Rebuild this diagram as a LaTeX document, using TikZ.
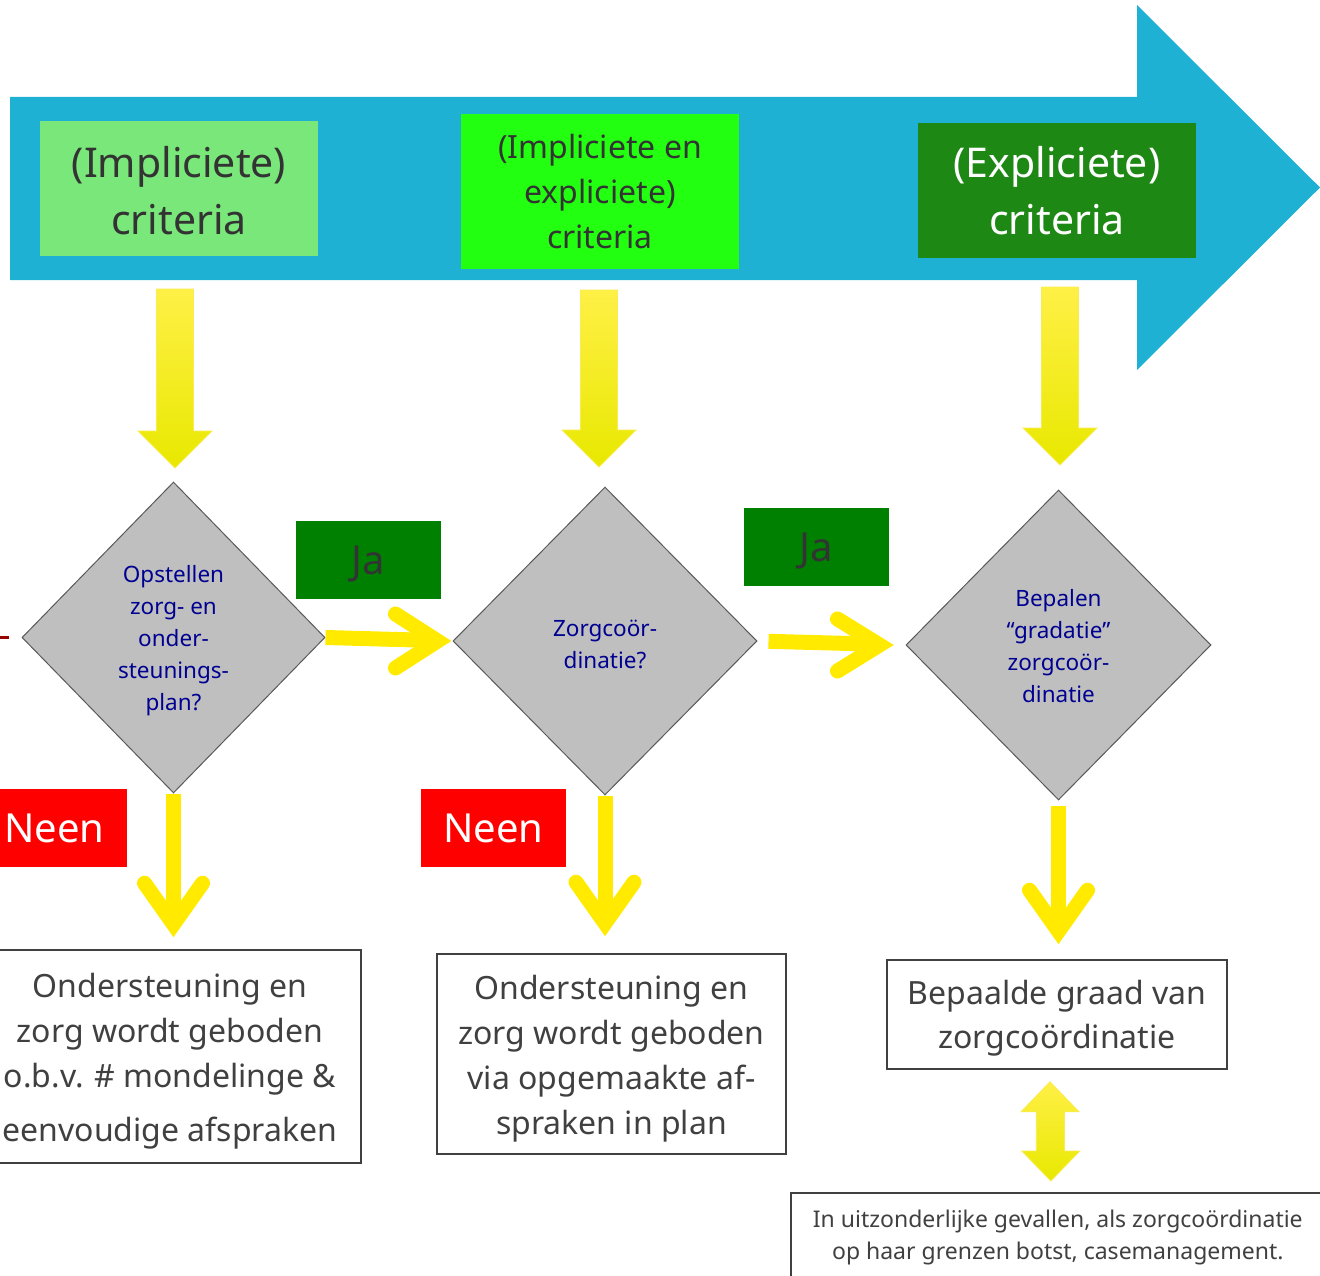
\documentclass[tikz,border=0pt]{standalone}
\usepackage{fontspec}
\setmainfont{Noto Sans}
\usetikzlibrary{shapes.geometric,calc}
\definecolor{arrowblue}{RGB}{31,177,211}
\definecolor{lgreen}{RGB}{122,231,122}
\definecolor{bgreen}{RGB}{34,255,16}
\definecolor{dgreen}{RGB}{29,136,19}
\definecolor{jagreen}{RGB}{0,128,0}
\definecolor{neenred}{RGB}{255,0,0}
\definecolor{txtgray}{RGB}{64,64,64}
\definecolor{darktxt}{RGB}{51,51,51}
\definecolor{diagray}{RGB}{191,191,191}
\definecolor{diaborder}{RGB}{89,89,89}
\definecolor{navytxt}{RGB}{0,0,145}
\definecolor{ylwline}{RGB}{255,234,0}
\definecolor{ylwA}{RGB}{255,240,70}
\definecolor{ylwB}{RGB}{255,245,0}
\definecolor{ylwC}{RGB}{232,232,0}
\definecolor{ylwedge}{RGB}{250,235,80}
\definecolor{linered}{RGB}{153,0,0}
\newcommand\downblock[3]{%
  \shadedraw[blockarrow] (#1-18.5,#2) -- (#1+18.5,#2) -- (#1+18.5,#3-37) -- (#1+37,#3-37) -- (#1,#3) -- (#1-37,#3-37) -- (#1-18.5,#3-37) -- cycle;}
\begin{document}
\begin{tikzpicture}[x=1pt,y=-1pt,
  crit/.style={rectangle, inner sep=0pt, align=center, minimum width=278pt, text=darktxt},
  decision/.style={diamond, draw=diaborder, line width=1pt, fill=diagray, inner sep=0pt},
  dtext/.style={inner sep=0pt, align=center, text=navytxt, font=\fontsize{22.5}{32}\selectfont},
  tag/.style={rectangle, inner sep=0pt, minimum width=145pt, minimum height=78pt, text depth=0pt, font=\fontsize{40}{48}\selectfont},
  outcome/.style={rectangle, draw=txtgray, line width=1.6pt, fill=white, inner sep=0pt},
  otext/.style={inner sep=0pt, align=center, text=txtgray},
  yline/.style={draw=ylwline, line width=15pt},
  ychev/.style={draw=ylwline, line width=15pt, line cap=round, line join=miter},
  blockarrow/.style={top color=ylwA, middle color=ylwB, bottom color=ylwC, draw=ylwedge, line width=0.8pt}
]
\useasboundingbox (0,0) rectangle (1320,1276);
\clip (0,0) rectangle (1320,1276);

% big blue arrow
\fill[arrowblue] (10,97) -- (1137,97) -- (1137,5) -- (1320,187.5) -- (1137,370) -- (1137,280) -- (10,280) -- cycle;

% criteria boxes
\node[crit, fill=lgreen, minimum height=135pt] (c1) at (179,188.5) {};
\node[crit, font=\fontsize{41}{57}\selectfont] (c1t) at ($(c1.center)+(0,2)$) {(Impliciete)\\criteria};
\node[crit, fill=bgreen, minimum height=155pt, font=\fontsize{32}{45}\selectfont] (c2) at (600,191.5) {(Impliciete en\\expliciete)\\criteria};
\node[crit, fill=dgreen, minimum height=135pt, text=white, font=\fontsize{41}{57}\selectfont] (c3) at (1057,190.5) {(Expliciete)\\criteria};

% block arrows down
\downblock{175}{289}{468}
\downblock{599}{290}{467}
\downblock{1060}{287}{465}

% decisions
\node[decision, minimum width=303pt, minimum height=311pt] (d1) at (173.5,637.5) {};
\node[dtext] (d1t) at ($(d1.center)+(0,3)$) {Opstellen\\zorg- en\\onder-\\steunings-\\plan?};
\node[decision, minimum width=304pt, minimum height=308pt] (d2) at (605,641) {};
\node[dtext] (d2t) at ($(d2.center)+(0,3)$) {Zorgcoör-\\dinatie?};
\node[decision, minimum width=305pt, minimum height=310pt] (d3) at (1058.5,645) {};
\node[dtext] (d3t) at ($(d3.center)+(0,1.5)$) {Bepalen\\“gradatie”\\zorgcoör-\\dinatie};

% tags
\node[tag, fill=jagreen, text=darktxt] (ja1) at (368.5,560) {Ja};
\node[tag, fill=jagreen, text=darktxt] (ja2) at (816.5,547) {Ja};
\node[tag, fill=neenred, text=white] (neen1) at (54.5,828) {Neen};
\node[tag, fill=neenred, text=white] (neen2) at (493.5,828) {Neen};

% outcomes
\node[outcome, minimum width=382pt, minimum height=213pt] (o1) at (170,1056.5) {};
\node[otext, font=\fontsize{32}{45}\selectfont] (o1t) at ($(o1.center)+(0,4.5)$) {Ondersteuning en\\zorg wordt geboden\\o.b.v. \# mondelinge \&\\[9pt]eenvoudige afspraken};
\node[outcome, minimum width=349pt, minimum height=200pt] (o2) at (611.5,1054) {};
\node[otext, font=\fontsize{32}{45}\selectfont] (o2t) at ($(o2.center)+(0,4.5)$) {Ondersteuning en\\zorg wordt geboden\\via opgemaakte af-\\spraken in plan};
\node[outcome, minimum width=340pt, minimum height=109pt] (o3) at (1057,1014.5) {};
\node[otext, font=\fontsize{32}{44}\selectfont] (o3t) at ($(o3.center)+(0,4)$) {Bepaalde graad van\\zorgcoördinatie};
\node[outcome, minimum width=534pt, minimum height=86pt, anchor=north west] (o4) at (790,1192) {};
\node[otext, font=\fontsize{23}{32}\selectfont] (o4t) at ($(o4.center)+(0,2)$) {In uitzonderlijke gevallen, als zorgcoördinatie\\op haar grenzen botst, casemanagement.};

% red stub at left
\coordinate (redstart) at (-5,637);
\coordinate (redend) at (9,637);
\draw[linered, line width=3pt] (redstart) -- (redend);

% yes arrows
\draw[yline, shorten >=15pt] (d1.east) -- (d2.west);
\draw[ychev] ($(d2.west)+(-57,-27)$) -- ($(d2.west)+(-15,0)$) -- ($(d2.west)+(-57,27)$);
\draw[yline, shorten <=11pt, shorten >=26pt] (d2.east) -- (d3.west);
\draw[ychev] ($(d3.west)+(-68,-26)$) -- ($(d3.west)+(-26,0)$) -- ($(d3.west)+(-68,26)$);

% down arrows
\coordinate (t1) at ($(d1.south |- o1.north)+(0,-12)$);
\coordinate (t2) at ($(d2.south |- o2.north)+(0,-17)$);
\coordinate (t3) at ($(d3.south |- o3.north)+(0,-15)$);
\draw[yline, shorten >=13pt] (d1.south) -- (t1);
\draw[ychev] ($(t1)+(-29,-54)$) -- ($(t1)+(0,-13)$) -- ($(t1)+(29,-54)$);
\draw[yline, shorten >=13pt] (d2.south) -- (t2);
\draw[ychev] ($(t2)+(-29,-54)$) -- ($(t2)+(0,-13)$) -- ($(t2)+(29,-54)$);
\draw[yline, shorten <=5pt, shorten >=13pt] (d3.south) -- (t3);
\draw[ychev] ($(t3)+(-29,-54)$) -- ($(t3)+(0,-13)$) -- ($(t3)+(29,-54)$);

% double arrow between outcome boxes
\coordinate (dbltop) at ($(o3.south)+(-7,12)$);
\coordinate (dblbot) at ($(o4.north)+(-7,-11)$);
\shadedraw[blockarrow] (dbltop) -- ++(29,30) -- ++(-14.5,0) |- ($(dblbot)+(29,-30)$) -- (dblbot) -- ++(-29,-30) -- ++(14.5,0) |- ($(dbltop)+(-29,30)$) -- cycle;
\end{tikzpicture}
\end{document}
